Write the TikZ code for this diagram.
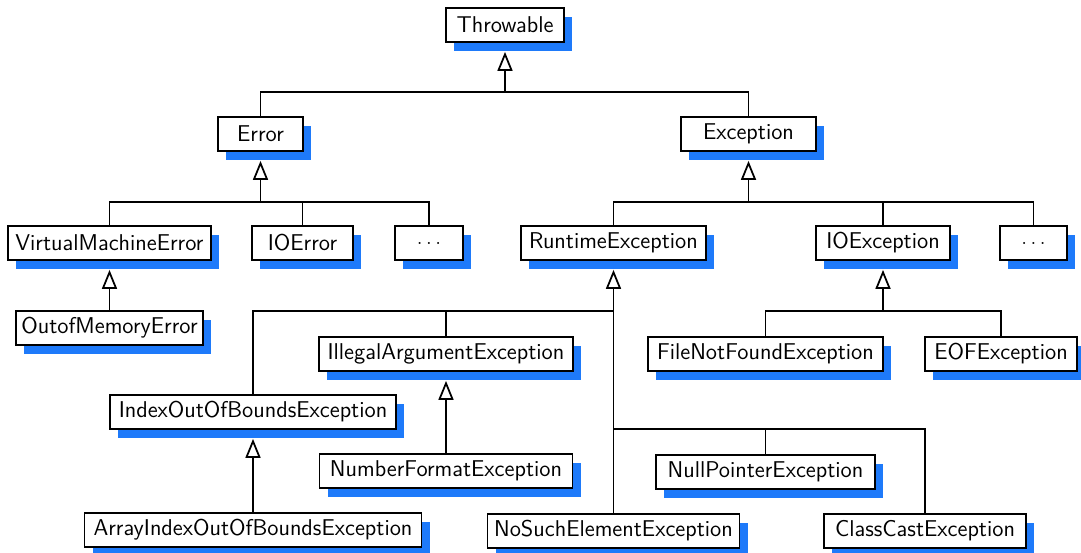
\documentclass[tikz,border=0pt]{standalone}
\usepackage{fontspec}
\usepackage{tikz}
\usetikzlibrary{arrows.meta,shadows}
\definecolor{shadowblue}{RGB}{30,122,250}

\begin{document}
\begin{tikzpicture}[
	cls/.style={draw=black, line width=1pt, fill=white, minimum height=0.68cm, inner xsep=0.1cm, inner ysep=0pt,
		font=\sffamily\fontsize{13}{15}\selectfont,
		drop shadow={shadow xshift=0.16cm, shadow yshift=-0.18cm, fill=shadowblue, opacity=1}},
	link/.style={line width=1pt},
	isa/.style={link, -{Triangle[open, length=0.38cm, width=0.3cm]}, shorten >=0.18cm}]
		%%%%% START %%%%%
		\useasboundingbox (0, 0) rectangle (21.62, 11.06);
		
		\node[cls, minimum width=2.36cm] (Throwable) at (10.10, 10.56) {Throwable};
		
		\node[cls, minimum width=1.70cm] (Error) at (5.21, 8.38) {Error};
		\node[cls, minimum width=2.70cm] (Exception) at (14.97, 8.38) {Exception};
		
		\node[cls, minimum width=4.06cm] (VMError) at (2.19, 6.20) {VirtualMachineError};
		\node[cls, minimum width=2.02cm] (IOError) at (6.05, 6.20) {IOError};
		\node[cls, minimum width=1.36cm] (ErrDots) at (8.58, 6.20) {$\ldots$};
		\node[cls, minimum width=3.70cm] (Runtime) at (12.27, 6.20) {RuntimeException};
		\node[cls, minimum width=2.68cm] (IOExc) at (17.66, 6.20) {IOException};
		\node[cls, minimum width=1.34cm] (ExcDots) at (20.67, 6.20) {$\ldots$};
		
		\node[cls, minimum width=3.72cm] (OOMError) at (2.19, 4.50) {OutofMemoryError};
		\node[cls, minimum width=5.08cm] (IllegalArg) at (8.92, 3.98) {IllegalArgumentException};
		\node[cls, minimum width=4.70cm] (FileNotFound) at (15.31, 3.98) {FileNotFoundException};
		\node[cls, minimum width=3.04cm] (EOF) at (20.02, 3.98) {EOFException};
		
		\node[cls, minimum width=5.72cm] (IndexOOB) at (5.06, 2.82) {IndexOutOfBoundsException};
		\node[cls, minimum width=5.06cm] (NumFormat) at (8.92, 1.64) {NumberFormatException};
		\node[cls, minimum width=4.38cm] (NullPtr) at (15.31, 1.62) {NullPointerException};
		
		\node[cls, minimum width=6.74cm] (ArrayIndexOOB) at (5.06, 0.46) {ArrayIndexOutOfBoundsException};
		\node[cls, minimum width=5.04cm] (NoSuchElem) at (12.27, 0.44) {NoSuchElementException};
		\node[cls, minimum width=4.04cm] (ClassCast) at (18.50, 0.44) {ClassCastException};
		
		% bars of the tree
		\coordinate (b0) at (10.10, 9.22);
		\coordinate (b1) at (5.21, 7.02);
		\coordinate (b2) at (14.97, 7.02);
		\coordinate (b3) at (12.27, 4.84);
		\coordinate (b4) at (12.27, 2.48);
		\coordinate (b5) at (17.66, 4.84);
		
		\draw[link] (Error.north) |- (b0) -| (Exception.north);
		\draw[isa] (b0) -- (Throwable);
		
		\draw[link] (VMError.north) |- (b1) -| (ErrDots.north);
		\draw[link] (IOError.north) -- (IOError.north |- b1);
		\draw[isa] (b1) -- (Error);
		
		\draw[link] (Runtime.north) |- (b2) -| (ExcDots.north);
		\draw[link] (IOExc.north) -- (IOExc.north |- b2);
		\draw[isa] (b2) -- (Exception);
		
		\draw[isa] (OOMError) -- (VMError);
		
		\draw[link] (IndexOOB.north) |- (b3) -- (NoSuchElem.north);
		\draw[link] (IllegalArg.north) -- (IllegalArg.north |- b3);
		\draw[isa] (b3) -- (Runtime);
		\draw[link] (b4) -| (ClassCast.north);
		\draw[link] (NullPtr.north) -- (NullPtr.north |- b4);
		
		\draw[link] (FileNotFound.north) |- (b5) -| (EOF.north);
		\draw[isa] (b5) -- (IOExc);
		
		\draw[isa] (NumFormat) -- (IllegalArg);
		\draw[isa] (ArrayIndexOOB) -- (IndexOOB);
		%%%%% END %%%%%
	\end{tikzpicture}
\end{document}
